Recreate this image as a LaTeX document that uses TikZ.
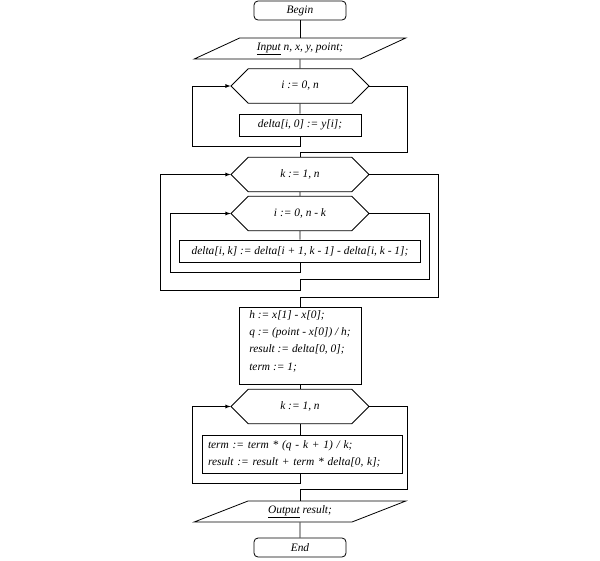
\documentclass[tikz,border=0pt]{standalone}
\usepackage{fontspec}
\setmainfont{Liberation Serif}
\usetikzlibrary{shapes.geometric,shapes.misc}
\tikzstyle{terminal}=[draw,rounded corners=4pt,minimum width=92pt,minimum height=19pt,inner sep=1pt]
\tikzstyle{io}=[draw,trapezium,trapezium left angle=22.8,trapezium right angle=157.2,trapezium stretches=true,minimum width=212pt,minimum height=21pt,inner sep=1pt]
\tikzstyle{loophead}=[draw,chamfered rectangle,chamfered rectangle xsep=28pt,chamfered rectangle ysep=11.5pt,minimum width=138pt,minimum height=23pt,inner sep=1pt]
\tikzstyle{action}=[draw,minimum height=22pt,inner sep=2pt]
\tikzstyle{loopline}=[-latex]

\begin{document}
\begin{tikzpicture}[x=1pt,y=-1pt,line width=0.8pt,every node/.style={font=\itshape\fontsize{11.4pt}{17.3pt}\selectfont}]
\useasboundingbox[fill=white] (0,0) rectangle (600,560);
\node[terminal] (begin) at (300,10.5) {Begin};
\node[io] (input) at (300,48.5) {\underline{Input} n, x, y, point;};
\node[loophead] (fori) at (300,86) {i := 0, n};
\node[action,minimum width=122pt] (init) at (300,125) {delta[i, 0] := y[i];};
\node[loophead] (fork) at (300,174.5) {k := 1, n};
\node[loophead] (forik) at (300,213.5) {i := 0, n - k};
\node[action,minimum width=241pt] (diff) at (300,251) {delta[i, k] := delta[i + 1, k - 1] - delta[i, k - 1];};
\node[action,minimum width=122pt,minimum height=77pt,align=left] (prep) at (300,345.5) {h := x[1] - x[0];\\ q := (point - x[0]) / h;\\ result := delta[0, 0];\\ term := 1;\\[-7pt]};
\node[loophead] (fork2) at (300,406.5) {k := 1, n};
\node[action,minimum width=200pt,minimum height=38pt,align=left,text width=188pt] (accum) at (302,454) {term := term * (q - k + 1) / k;\\ result := result + term * delta[0, k];};
\node[io] (output) at (300,511.5) {\underline{Output} result;};
\node[terminal] (end) at (300,547.5) {End};

\coordinate (back1) at (192,146);
\coordinate (exit1) at (407,152);
\coordinate (exit2) at (438,297);
\coordinate (exit3) at (429,279);
\coordinate (join2) at (300,290);
\coordinate (back2) at (160,290);
\coordinate (back3) at (170,272);
\coordinate (back4) at (192,483);
\coordinate (exit4) at (407,489);

\draw (begin) -- (input);
\draw (input) -- (fori);
\draw (fori) -- (init);
\draw[loopline] (init.south) |- (back1) |- (fori.west);
\draw (fori.east) -| (exit1) -| (fork.north);
\draw (fork) -- (forik);
\draw (forik) -- (diff);
\draw[loopline] (diff.south) |- (back3) |- (forik.west);
\draw[loopline] (forik.east) -| (exit3) -| (join2) -- (back2) |- (fork.west);
\draw (fork.east) -| (exit2) -| (prep.north);
\draw (prep) -- (fork2);
\draw (fork2.south) -- (fork2.south |- accum.north);
\draw[loopline] (accum.south -| fork2.south) |- (back4) |- (fork2.west);
\draw (fork2.east) -| (exit4) -| (output.north);
\draw (output) -- (end);
\end{tikzpicture}
\end{document}
